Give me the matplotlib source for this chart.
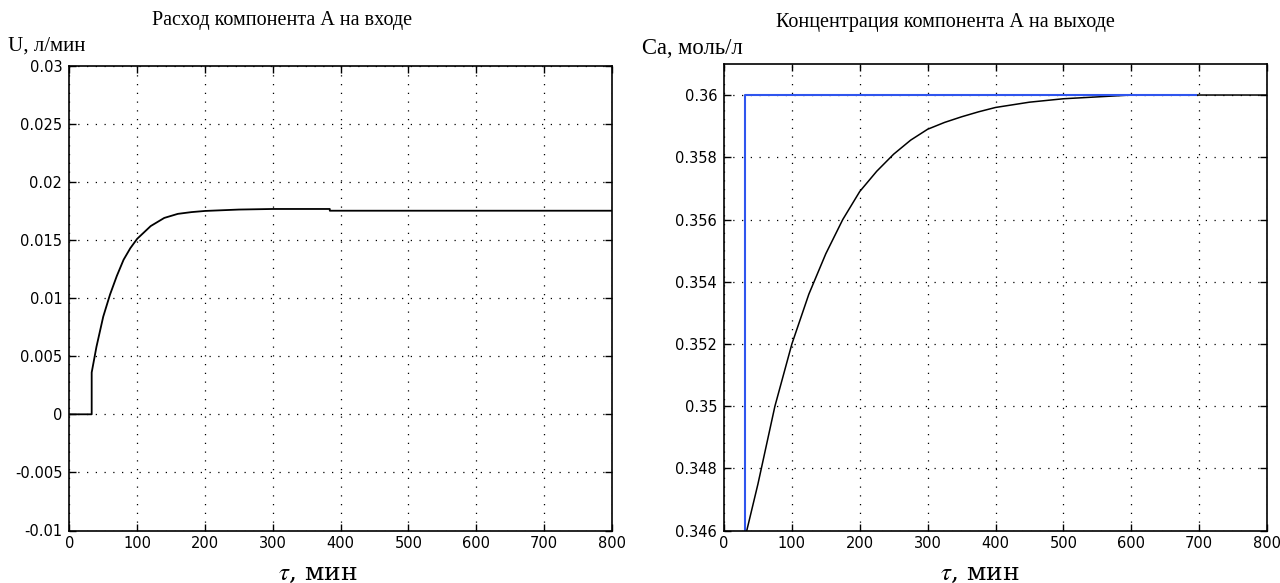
import matplotlib
matplotlib.use("Agg")
import matplotlib.pyplot as plt
from matplotlib import font_manager

# ---------------- data ----------------
t_u = [0, 33, 33, 40, 50, 60, 70, 80, 90, 100, 120, 140, 160, 180, 200, 250, 300, 384, 384, 800]
u_vals = [0, 0, 0.0036, 0.0058, 0.0084, 0.0103, 0.0119, 0.0133, 0.0143, 0.0151, 0.0162,
          0.0169, 0.01725, 0.0174, 0.0175, 0.01762, 0.01767, 0.01767, 0.01752, 0.01752]

t_ca = [33.5, 50, 75, 100, 125, 150, 175, 200, 225, 250, 275, 300, 325, 350, 375, 400, 450, 500,
        575, 600, 800]
ca_vals = [0.346, 0.3475, 0.3500, 0.3520, 0.3536, 0.3549, 0.3560, 0.3569, 0.35755, 0.3581,
           0.35855, 0.3589, 0.35912, 0.3593, 0.35946, 0.3596, 0.35977, 0.35988, 0.35997,
           0.36, 0.36]

t_sp = [31, 31, 696]
sp_vals = [0.340, 0.36, 0.36]

x_ticks = [0, 100, 200, 300, 400, 500, 600, 700, 800]
u_ticks = [-0.01, -0.005, 0, 0.005, 0.01, 0.015, 0.02, 0.025, 0.03]
u_ticklabels = ['-0.01', '-0.005', '0', '0.005', '0.01', '0.015', '0.02', '0.025', '0.03']
ca_ticks = [0.346, 0.348, 0.35, 0.352, 0.354, 0.356, 0.358, 0.36]
ca_ticklabels = ['0.346', '0.348', '0.35', '0.352', '0.354', '0.356', '0.358', '0.36']

title_left = 'Расход компонента А на входе'
title_right = 'Концентрация компонента А на выходе'
ylabel_left = 'U, л/мин'
ylabel_right = 'Ca, моль/л'
xlabel_text = r'$\tau$, мин'

# ---------------- style ----------------
names = {f.name for f in font_manager.fontManager.ttflist}
tick_font = 'Liberation Sans Narrow' if 'Liberation Sans Narrow' in names else 'DejaVu Sans'
serif = ['Liberation Serif', 'DejaVu Serif']
plt.rcParams['mathtext.fontset'] = 'stix'

W, H = 1280, 583
fig = plt.figure(figsize=(W / 100, H / 100), dpi=100)

def px_axes(l, r, top, bottom):
    return [l / W, 1 - bottom / H, (r - l) / W, (bottom - top) / H]

ax1 = fig.add_axes(px_axes(69.3, 612, 65.7, 530.5))
ax2 = fig.add_axes(px_axes(724, 1267, 63.9, 530.7))

grid_kw = dict(color='black', linestyle=(0, (1, 6)), linewidth=0.9)

def style(ax, yticks, ylabels):
    ax.set_xlim(0, 800)
    ax.set_xticks(x_ticks)
    ax.set_xticklabels([str(v) for v in x_ticks], fontfamily=tick_font, fontsize=10.5)
    ax.set_yticks(yticks)
    ax.set_yticklabels(ylabels, fontfamily=tick_font, fontsize=10.5)
    ax.tick_params(direction='in', top=True, right=True, length=5, width=1, colors='black')
    ax.tick_params(axis='y', pad=5)
    ax.tick_params(axis='x', pad=4)
    ax.grid(True, **grid_kw)
    for s in ax.spines.values():
        s.set_linewidth(1.2)
        s.set_color('black')
        s.set_zorder(5)

ax1.plot(t_u, u_vals, color='black', linewidth=1.3, zorder=3)
ax1.set_ylim(-0.01, 0.03)
style(ax1, u_ticks, u_ticklabels)

ax2.plot(t_ca, ca_vals, color='black', linewidth=1.1, zorder=3)
ax2.plot(t_sp, sp_vals, color='#2f55ee', linewidth=1.5, zorder=4)
ax2.set_ylim(0.346, 0.361)
style(ax2, ca_ticks, ca_ticklabels)

# titles / labels placed by pixel position
def ftext(x, y, s, **kw):
    fig.text(x / W, 1 - y / H, s, **kw)

ftext(282, 20, title_left, ha='center', va='center', family=serif, fontsize=14.5)
ftext(945, 22, title_right, ha='center', va='center', family=serif, fontsize=14.5)
ftext(8, 46, ylabel_left, ha='left', va='center', family=serif, fontsize=15)
ftext(642, 48, ylabel_right, ha='left', va='center', family=serif, fontsize=16.3)
xl_font = ['DejaVu Serif', 'Liberation Serif']
ftext(358, 580, xlabel_text, ha='right', va='baseline', family=xl_font, fontsize=18)
ftext(1020, 580, xlabel_text, ha='right', va='baseline', family=xl_font, fontsize=18)

fig.savefig('out.png', dpi=100, facecolor='white')
